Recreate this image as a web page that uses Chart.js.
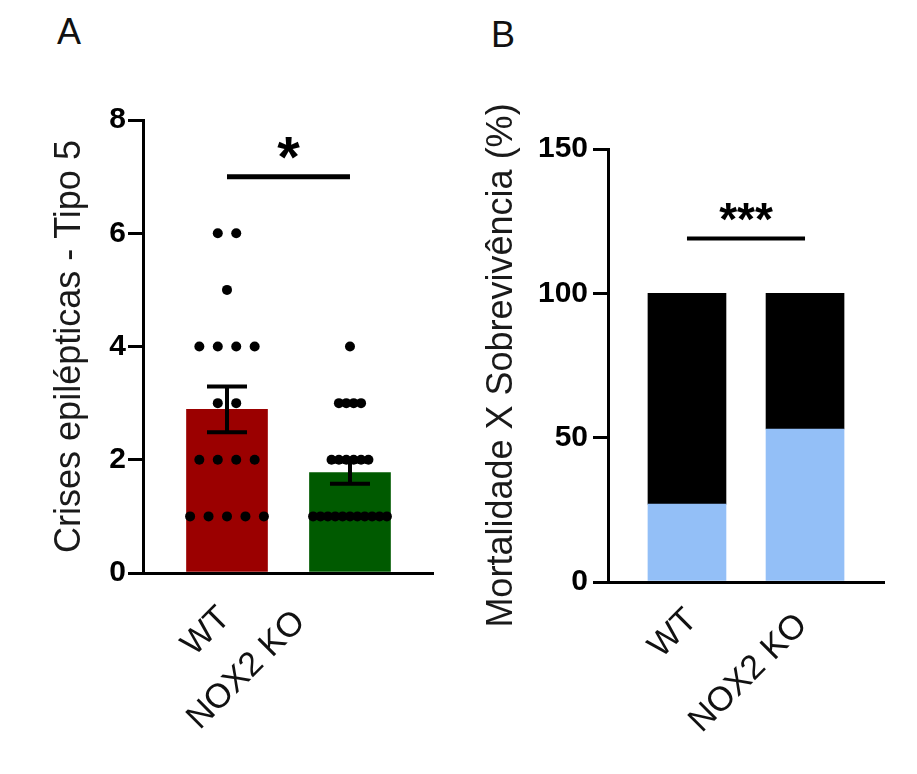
<!DOCTYPE html>
<html><head><meta charset="utf-8">
<script src="https://cdn.jsdelivr.net/npm/chart.js@4"></script>
<style>
html,body{margin:0;padding:0;background:#fff;}
#wrap{position:relative;width:917px;height:774px;overflow:hidden;background:#fff;}
.lbl{position:absolute;font-family:'Liberation Sans',Arial,sans-serif;font-size:36px;color:#111;line-height:1;}
.pane{position:absolute;top:0;height:774px;}
</style></head><body>
<div id="wrap">
<div class="lbl" style="left:57px;top:14px">A</div>
<div class="lbl" style="left:491px;top:17px">B</div>
<div class="pane" style="left:0;width:458px"><canvas id="cA" width="458" height="774"></canvas></div>
<div class="pane" style="left:458px;width:459px"><canvas id="cB" width="459" height="774"></canvas></div>
</div>
<script>
// ---------- data ----------
const groups = ['WT', 'NOX2 KO'];
const wtCrises = [6,6,5,4,4,4,4,3,3,2,2,2,2,1,1,1,1,1];
const koCrises = [4,3,3,3,3,2,2,2,2,2,2,1,1,1,1,1,1,1,1,1,1,1];
const crisesTicks = [0,2,4,6,8];
const survival = [27, 53];   // % (blue)
const mortality = [73, 47];  // % (black)
const survTicks = [0,50,100,150];
const sigA = '*';
const sigB = '***';
const sigLevelA = 7;
const sigLevelB = 119;

// ---------- helpers ----------
const FONT = "'Liberation Sans', Arial, sans-serif";
function mean(a){return a.reduce((s,v)=>s+v,0)/a.length;}
function sem(a){const m=mean(a);const v=a.reduce((s,x)=>s+(x-m)*(x-m),0)/(a.length-1);return Math.sqrt(v/a.length);}
const rawA = [wtCrises, koCrises];
const meansA = rawA.map(mean);
const semsA = rawA.map(sem);

// column-scatter layout: rows per value, spread limited to a max width
function scatterPoints(arr, gi){
  const counts = {};
  arr.forEach(v=>counts[v]=(counts[v]||0)+1);
  const maxN = Math.max(...Object.values(counts));
  const step = Math.min(0.15, 0.6/Math.max(1,maxN-1));
  const pts = [];
  Object.keys(counts).forEach(k=>{
    const n = counts[k];
    for(let j=0;j<n;j++) pts.push({x: gi + (j-(n-1)/2)*step, y: +k});
  });
  return pts;
}
const dotsA = [].concat(scatterPoints(wtCrises,0), scatterPoints(koCrises,1));

// ---------- plugins ----------
function xLabelsPlugin(cfg){
  return {
    id:'xlabels',
    afterDraw(chart){
      const ctx = chart.ctx, xs = chart.scales.x, b = chart.chartArea.bottom;
      ctx.save();
      ctx.font = cfg.size + 'px ' + FONT;
      ctx.fillStyle = '#111';
      ctx.textAlign = 'right';
      ctx.textBaseline = 'middle';
      groups.forEach((g,i)=>{
        const px = xs.getPixelForValue(i) + cfg.dx[i];
        const py = b + cfg.dy[i];
        ctx.save();
        ctx.translate(px, py);
        ctx.rotate(-Math.PI/4);
        ctx.fillText(g, 0, 0);
        ctx.restore();
      });
      ctx.restore();
    }
  };
}
function sigPlugin(cfg){
  return {
    id:'sig',
    afterDraw(chart){
      const ctx = chart.ctx, xs = chart.scales.x, ys = chart.scales.y;
      const x0 = xs.getPixelForValue(0), x1 = xs.getPixelForValue(1);
      const y = ys.getPixelForValue(cfg.level);
      ctx.save();
      ctx.strokeStyle = '#000';
      ctx.lineWidth = cfg.lw;
      ctx.beginPath(); ctx.moveTo(x0, y); ctx.lineTo(x1, y); ctx.stroke();
      ctx.font = 'bold ' + cfg.size + 'px ' + FONT;
      ctx.fillStyle = '#000';
      ctx.textAlign = 'center';
      ctx.textBaseline = 'alphabetic';
      const m = ctx.measureText(cfg.text);
      const asc = m.actualBoundingBoxAscent, desc = m.actualBoundingBoxDescent;
      const cy = y - cfg.rise;
      ctx.fillText(cfg.text, (x0+x1)/2, cy - (desc - asc)/2);
      ctx.restore();
    }
  };
}
const errorBarPlugin = {
  id:'errbars',
  afterDatasetDraw(chart, args){
    if(args.index !== 0) return;
    const ctx = chart.ctx, xs = chart.scales.x, ys = chart.scales.y;
    ctx.save();
    ctx.strokeStyle = '#000';
    ctx.lineWidth = 4;
    meansA.forEach((m,i)=>{
      const x = xs.getPixelForValue(i);
      const yt = ys.getPixelForValue(m + semsA[i]);
      const yb = ys.getPixelForValue(m - semsA[i]);
      ctx.beginPath();
      ctx.moveTo(x, yt); ctx.lineTo(x, yb);
      ctx.moveTo(x-20, yt); ctx.lineTo(x+20, yt);
      ctx.moveTo(x-20, yb); ctx.lineTo(x+20, yb);
      ctx.stroke();
    });
    ctx.restore();
  }
};

function yAxis(min, max, step, tickVals, title, width, titlePad, tickPad){
  return {
    min, max,
    afterBuildTicks(s){ s.ticks = tickVals.map(v=>({value:v})); },
    ticks:{ stepSize:step, color:'#000', padding:tickPad, font:{family:FONT, size:30, weight:'bold'} },
    grid:{ drawOnChartArea:false, tickLength:15, lineWidth:3, tickWidth:3, color:'#000' },
    border:{ display:true, width:3, color:'#000' },
    title:{ display:true, text:title, color:'#1a1a1a', font:{family:FONT, size:36}, padding:{top:titlePad, bottom:0} },
    afterFit(s){ s.width = width; }
  };
}
function xAxis(min, max, height){
  return {
    type:'linear', min, max, offset:false,
    grid:{ display:false, offset:false },
    ticks:{ display:false },
    border:{ display:true, width:3, color:'#000' },
    afterFit(s){ s.height = height; }
  };
}

Chart.defaults.animation = false;

// ---------- Panel A ----------
new Chart(document.getElementById('cA'), {
  type:'bar',
  data:{
    datasets:[
      { type:'bar', data: groups.map((g,i)=>({x:i, y:meansA[i]})),
        backgroundColor:['#9b0000','#005a00'], barThickness:81, order:2 },
      { type:'scatter', data: dotsA, pointRadius:5, pointHoverRadius:5,
        backgroundColor:'#000', pointBackgroundColor:'#000', borderWidth:0, pointBorderWidth:0, order:1 }
    ]
  },
  options:{
    responsive:false, devicePixelRatio:1,
    layout:{ padding:{ left:40, top:120, right:25, bottom:0 } },
    plugins:{ legend:{display:false}, tooltip:{enabled:false} },
    scales:{
      x: xAxis(-0.683, 1.675, 201),
      y: yAxis(0, 8, 2, crisesTicks, 'Crises epilépticas - Tipo 5', 103, 8.4, 2)
    }
  },
  plugins:[errorBarPlugin, sigPlugin({level:sigLevelA, text:sigA, size:58, rise:29, lw:5}),
           xLabelsPlugin({size:34, dx:[-2,-50], dy:[40,44]})]
});

// ---------- Panel B ----------
new Chart(document.getElementById('cB'), {
  type:'bar',
  data:{
    datasets:[
      { label:'Sobrevivência', data: groups.map((g,i)=>({x:i, y:survival[i]})),
        backgroundColor:'#93bff7', barThickness:78 },
      { label:'Mortalidade', data: groups.map((g,i)=>({x:i, y:mortality[i]})),
        backgroundColor:'#000000', barThickness:78 }
    ]
  },
  options:{
    responsive:false, devicePixelRatio:1,
    layout:{ padding:{ left:16, top:149, right:33, bottom:0 } },
    plugins:{ legend:{display:false}, tooltip:{enabled:false} },
    scales:{
      x: Object.assign(xAxis(-0.669, 1.669, 192), {stacked:true}),
      y: Object.assign(yAxis(0, 150, 50, survTicks, 'Mortalidade X Sobrevivência (%)', 134, 6.4, 5), {stacked:true})
    }
  },
  plugins:[sigPlugin({level:sigLevelB, text:sigB, size:46, rise:26, lw:4}),
           xLabelsPlugin({size:34, dx:[5,-3], dy:[33,38]})]
});
</script>
</body></html>
